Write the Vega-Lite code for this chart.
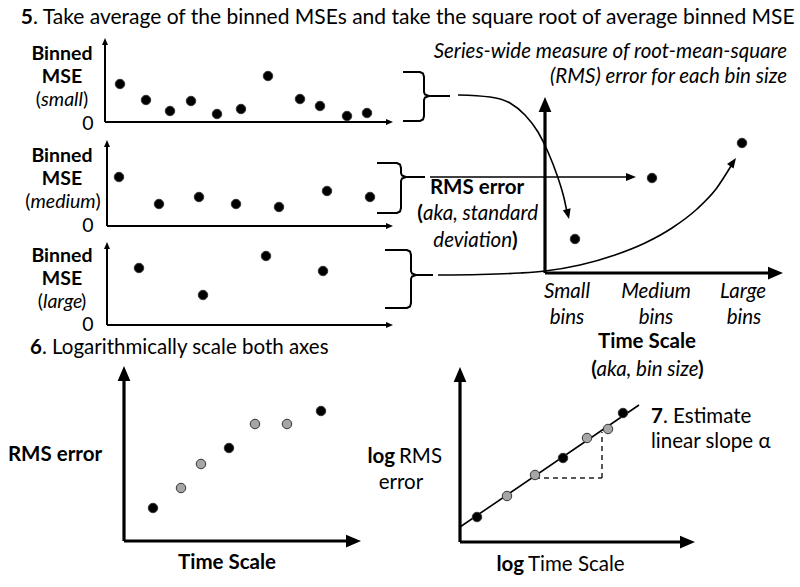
{
  "$schema": "https://vega.github.io/schema/vega-lite/v6.json",
  "width": 800,
  "height": 587,
  "padding": 0,
  "autosize": {"type": "fit", "contains": "padding"},
  "background": "white",
  "config": {"view": {"stroke": null}},
  "datasets": {
    "thinAxes": [
      {"x": 105, "y": 122, "x2": 105, "y2": 43},
      {"x": 105, "y": 122, "x2": 388, "y2": 122},
      {"x": 107, "y": 226, "x2": 107, "y2": 145},
      {"x": 107, "y": 226, "x2": 388, "y2": 226},
      {"x": 107, "y": 325, "x2": 107, "y2": 247},
      {"x": 107, "y": 325, "x2": 388, "y2": 325},
      {"x": 429, "y": 96, "x2": 450, "y2": 96},
      {"x": 406, "y": 177, "x2": 425, "y2": 177},
      {"x": 416, "y": 275, "x2": 433, "y2": 275}
    ],
    "thickAxes": [
      {"x": 545, "y": 273, "x2": 545, "y2": 105},
      {"x": 545, "y": 273, "x2": 775, "y2": 273},
      {"x": 124, "y": 541, "x2": 124, "y2": 375},
      {"x": 124, "y": 541, "x2": 353, "y2": 541},
      {"x": 460, "y": 542, "x2": 460, "y2": 376},
      {"x": 460, "y": 542, "x2": 687, "y2": 542}
    ],
    "fitLines": [
      {"x": 430, "y": 177, "x2": 628, "y2": 177},
      {"x": 460, "y": 527, "x2": 639, "y2": 405}
    ],
    "slopeGuide": [
      {"x": 535, "y": 478, "x2": 602, "y2": 478},
      {"x": 602, "y": 478, "x2": 602, "y2": 432}
    ],
    "smallHeads": [
      {"x": 105, "y": 38, "heading": 0},
      {"x": 107, "y": 140, "heading": 0},
      {"x": 107, "y": 242, "heading": 0},
      {"x": 393, "y": 122, "heading": 90},
      {"x": 393, "y": 226, "heading": 90},
      {"x": 393, "y": 325, "heading": 90}
    ],
    "midHeads": [
      {"x": 636, "y": 177, "heading": 90},
      {"x": 569, "y": 219, "heading": 167},
      {"x": 736, "y": 158, "heading": 35}
    ],
    "bigHeads": [
      {"x": 545, "y": 97, "heading": 0},
      {"x": 783, "y": 273, "heading": 90},
      {"x": 124, "y": 366, "heading": 0},
      {"x": 361, "y": 541, "heading": 90},
      {"x": 460, "y": 367, "heading": 0},
      {"x": 695, "y": 542, "heading": 90}
    ],
    "braces": [
      {"id": "b1", "seq": 1, "x": 403, "y": 72},
      {"id": "b1", "seq": 2, "x": 420, "y": 72},
      {"id": "b1", "seq": 3, "x": 423, "y": 73.5},
      {"id": "b1", "seq": 4, "x": 424, "y": 77},
      {"id": "b1", "seq": 5, "x": 424, "y": 92},
      {"id": "b1", "seq": 6, "x": 425, "y": 94.5},
      {"id": "b1", "seq": 7, "x": 429, "y": 96},
      {"id": "b1", "seq": 8, "x": 425, "y": 97.5},
      {"id": "b1", "seq": 9, "x": 424, "y": 100},
      {"id": "b1", "seq": 10, "x": 424, "y": 116},
      {"id": "b1", "seq": 11, "x": 423, "y": 119.5},
      {"id": "b1", "seq": 12, "x": 420, "y": 121},
      {"id": "b1", "seq": 13, "x": 403, "y": 121},
      {"id": "b2", "seq": 1, "x": 377, "y": 163},
      {"id": "b2", "seq": 2, "x": 397, "y": 163},
      {"id": "b2", "seq": 3, "x": 400, "y": 164.5},
      {"id": "b2", "seq": 4, "x": 401, "y": 168},
      {"id": "b2", "seq": 5, "x": 401, "y": 173},
      {"id": "b2", "seq": 6, "x": 402, "y": 175.5},
      {"id": "b2", "seq": 7, "x": 406, "y": 177},
      {"id": "b2", "seq": 8, "x": 402, "y": 178.5},
      {"id": "b2", "seq": 9, "x": 401, "y": 181},
      {"id": "b2", "seq": 10, "x": 401, "y": 208},
      {"id": "b2", "seq": 11, "x": 400, "y": 211.5},
      {"id": "b2", "seq": 12, "x": 397, "y": 213},
      {"id": "b2", "seq": 13, "x": 377, "y": 213},
      {"id": "b3", "seq": 1, "x": 385, "y": 250},
      {"id": "b3", "seq": 2, "x": 407, "y": 250},
      {"id": "b3", "seq": 3, "x": 410, "y": 251.5},
      {"id": "b3", "seq": 4, "x": 411, "y": 255},
      {"id": "b3", "seq": 5, "x": 411, "y": 271},
      {"id": "b3", "seq": 6, "x": 412, "y": 273.5},
      {"id": "b3", "seq": 7, "x": 416, "y": 275},
      {"id": "b3", "seq": 8, "x": 412, "y": 276.5},
      {"id": "b3", "seq": 9, "x": 411, "y": 279},
      {"id": "b3", "seq": 10, "x": 411, "y": 303},
      {"id": "b3", "seq": 11, "x": 410, "y": 306.5},
      {"id": "b3", "seq": 12, "x": 407, "y": 308},
      {"id": "b3", "seq": 13, "x": 385, "y": 308}
    ],
    "curves": [
      {"id": "c1", "seq": 1, "x": 458, "y": 95},
      {"id": "c1", "seq": 2, "x": 490, "y": 97},
      {"id": "c1", "seq": 3, "x": 510, "y": 103},
      {"id": "c1", "seq": 4, "x": 525, "y": 115},
      {"id": "c1", "seq": 5, "x": 538, "y": 132},
      {"id": "c1", "seq": 6, "x": 548, "y": 152},
      {"id": "c1", "seq": 7, "x": 557, "y": 175},
      {"id": "c1", "seq": 8, "x": 564, "y": 198},
      {"id": "c1", "seq": 9, "x": 567, "y": 212},
      {"id": "c3", "seq": 1, "x": 438, "y": 275},
      {"id": "c3", "seq": 2, "x": 480, "y": 274.5},
      {"id": "c3", "seq": 3, "x": 520, "y": 273},
      {"id": "c3", "seq": 4, "x": 545, "y": 271},
      {"id": "c3", "seq": 5, "x": 580, "y": 265},
      {"id": "c3", "seq": 6, "x": 615, "y": 255},
      {"id": "c3", "seq": 7, "x": 645, "y": 243},
      {"id": "c3", "seq": 8, "x": 672, "y": 228},
      {"id": "c3", "seq": 9, "x": 697, "y": 209},
      {"id": "c3", "seq": 10, "x": 716, "y": 189},
      {"id": "c3", "seq": 11, "x": 731, "y": 166}
    ],
    "dots": [
      {"panel": "small", "x": 120, "y": 84, "series": "measured"},
      {"panel": "small", "x": 146, "y": 100, "series": "measured"},
      {"panel": "small", "x": 170, "y": 111, "series": "measured"},
      {"panel": "small", "x": 191, "y": 101, "series": "measured"},
      {"panel": "small", "x": 217, "y": 114, "series": "measured"},
      {"panel": "small", "x": 241, "y": 109, "series": "measured"},
      {"panel": "small", "x": 268, "y": 76, "series": "measured"},
      {"panel": "small", "x": 300, "y": 99, "series": "measured"},
      {"panel": "small", "x": 320, "y": 106, "series": "measured"},
      {"panel": "small", "x": 347, "y": 116, "series": "measured"},
      {"panel": "small", "x": 367, "y": 113, "series": "measured"},
      {"panel": "medium", "x": 119, "y": 177, "series": "measured"},
      {"panel": "medium", "x": 159, "y": 204, "series": "measured"},
      {"panel": "medium", "x": 199, "y": 197, "series": "measured"},
      {"panel": "medium", "x": 236, "y": 204, "series": "measured"},
      {"panel": "medium", "x": 279, "y": 207, "series": "measured"},
      {"panel": "medium", "x": 327, "y": 191, "series": "measured"},
      {"panel": "medium", "x": 370, "y": 197, "series": "measured"},
      {"panel": "large", "x": 139, "y": 268, "series": "measured"},
      {"panel": "large", "x": 203, "y": 295, "series": "measured"},
      {"panel": "large", "x": 266, "y": 256, "series": "measured"},
      {"panel": "large", "x": 323, "y": 271, "series": "measured"},
      {"panel": "rms", "x": 575, "y": 239, "series": "measured"},
      {"panel": "rms", "x": 652, "y": 178, "series": "measured"},
      {"panel": "rms", "x": 742, "y": 143, "series": "measured"},
      {"panel": "rmsLinear", "x": 153, "y": 508, "series": "measured"},
      {"panel": "rmsLinear", "x": 181, "y": 488, "series": "additional"},
      {"panel": "rmsLinear", "x": 201, "y": 464, "series": "additional"},
      {"panel": "rmsLinear", "x": 229, "y": 448, "series": "measured"},
      {"panel": "rmsLinear", "x": 255, "y": 424, "series": "additional"},
      {"panel": "rmsLinear", "x": 287, "y": 424, "series": "additional"},
      {"panel": "rmsLinear", "x": 321, "y": 411, "series": "measured"},
      {"panel": "rmsLog", "x": 477, "y": 517, "series": "measured"},
      {"panel": "rmsLog", "x": 507, "y": 496, "series": "additional"},
      {"panel": "rmsLog", "x": 535, "y": 475, "series": "additional"},
      {"panel": "rmsLog", "x": 563, "y": 458, "series": "measured"},
      {"panel": "rmsLog", "x": 587, "y": 438, "series": "additional"},
      {"panel": "rmsLog", "x": 608, "y": 429, "series": "additional"},
      {"panel": "rmsLog", "x": 623, "y": 413, "series": "measured"}
    ],
    "titleLeft": [
      {"t": ". Take average of the binned MSEs and take the square root of average binned MSE", "x": 33, "y": 18}
    ],
    "titleRight": [
      {"t": "5", "x": 33, "y": 18}
    ],
    "panelBold": [
      {"t": "Binned", "x": 62, "y": 54},
      {"t": "MSE", "x": 62, "y": 77},
      {"t": "Binned", "x": 62, "y": 156},
      {"t": "MSE", "x": 62, "y": 179},
      {"t": "Binned", "x": 62, "y": 256},
      {"t": "MSE", "x": 62, "y": 279}
    ],
    "panelItalic": [
      {"t": "small", "x": 41, "y": 100},
      {"t": "medium", "x": 30.5, "y": 202},
      {"t": "large", "x": 43, "y": 302}
    ],
    "panelOpen": [
      {"t": "(", "x": 41, "y": 100},
      {"t": "(", "x": 30.5, "y": 202},
      {"t": "(", "x": 43, "y": 302}
    ],
    "panelClose": [
      {"t": ")", "x": 83, "y": 100},
      {"t": ")", "x": 95.5, "y": 202},
      {"t": ")", "x": 81, "y": 302}
    ],
    "panelZero": [
      {"t": "0", "x": 88, "y": 124},
      {"t": "0", "x": 88, "y": 226},
      {"t": "0", "x": 88, "y": 325}
    ],
    "regularLeft": [
      {"t": ". Logarithmically scale both axes", "x": 42, "y": 348},
      {"t": "RMS", "x": 399, "y": 457},
      {"t": "Time Scale", "x": 528, "y": 565},
      {"t": ". Estimate", "x": 663, "y": 417},
      {"t": "linear slope α", "x": 651, "y": 442}
    ],
    "regularCenter": [
      {"t": "error", "x": 401, "y": 483}
    ],
    "boldCenter": [
      {"t": "RMS error", "x": 477, "y": 188},
      {"t": "Time Scale", "x": 647, "y": 342},
      {"t": "RMS error", "x": 55, "y": 455},
      {"t": "Time Scale", "x": 227, "y": 563}
    ],
    "boldRight": [
      {"t": "6", "x": 42, "y": 348},
      {"t": "7", "x": 663, "y": 417},
      {"t": "log", "x": 395, "y": 457},
      {"t": "log", "x": 524, "y": 565},
      {"t": "(", "x": 423, "y": 214},
      {"t": "(", "x": 597, "y": 370}
    ],
    "boldLeft": [
      {"t": ")", "x": 698, "y": 370},
      {"t": ")", "x": 512, "y": 241}
    ],
    "italicLeft": [
      {"t": "aka, standard", "x": 423, "y": 214}
    ],
    "italicRight": [
      {"t": "Series-wide measure of root-mean-square", "x": 787, "y": 52},
      {"t": "(RMS) error for each bin size", "x": 787, "y": 77},
      {"t": "deviation", "x": 512, "y": 241}
    ],
    "italicCenter": [
      {"t": "Small", "x": 567, "y": 292},
      {"t": "bins", "x": 567, "y": 318},
      {"t": "Medium", "x": 656, "y": 292},
      {"t": "bins", "x": 656, "y": 318},
      {"t": "Large", "x": 743, "y": 292},
      {"t": "bins", "x": 744, "y": 318},
      {"t": "aka, bin size", "x": 647.5, "y": 370}
    ]
  },
  "encoding": {
    "x": {"field": "x", "type": "quantitative", "scale": {"domain": [0, 800], "nice": false, "zero": false}, "axis": null},
    "y": {"field": "y", "type": "quantitative", "scale": {"domain": [0, 587], "nice": false, "zero": false, "reverse": true}, "axis": null}
  },
  "layer": [
    {"data": {"name": "thinAxes"}, "mark": {"type": "rule", "color": "black", "strokeWidth": 2},
     "encoding": {"x2": {"field": "x2"}, "y2": {"field": "y2"}}},
    {"data": {"name": "thickAxes"}, "mark": {"type": "rule", "color": "black", "strokeWidth": 3.2},
     "encoding": {"x2": {"field": "x2"}, "y2": {"field": "y2"}}},
    {"data": {"name": "fitLines"}, "mark": {"type": "rule", "color": "black", "strokeWidth": 1.6},
     "encoding": {"x2": {"field": "x2"}, "y2": {"field": "y2"}}},
    {"data": {"name": "slopeGuide"}, "mark": {"type": "rule", "color": "#222", "strokeWidth": 1.5, "strokeDash": [5, 4]},
     "encoding": {"x2": {"field": "x2"}, "y2": {"field": "y2"}}},
    {"data": {"name": "braces"}, "mark": {"type": "line", "color": "black", "strokeWidth": 2, "interpolate": "linear"},
     "encoding": {"detail": {"field": "id"}, "order": {"field": "seq", "type": "quantitative"}}},
    {"data": {"name": "curves"}, "mark": {"type": "line", "color": "black", "strokeWidth": 1.6, "interpolate": "monotone"},
     "encoding": {"detail": {"field": "id"}, "order": {"field": "seq", "type": "quantitative"}}},
    {"data": {"name": "smallHeads"}, "mark": {"type": "point", "shape": "M0,0L-0.85,2L0.85,2Z", "filled": true, "color": "black", "opacity": 1, "size": 49},
     "encoding": {"angle": {"field": "heading", "type": "quantitative", "scale": null}}},
    {"data": {"name": "midHeads"}, "mark": {"type": "point", "shape": "M0,0L-0.8,2L0.8,2Z", "filled": true, "color": "black", "opacity": 1, "size": 100},
     "encoding": {"angle": {"field": "heading", "type": "quantitative", "scale": null}}},
    {"data": {"name": "bigHeads"}, "mark": {"type": "point", "shape": "M0,0L-0.85,2L0.85,2Z", "filled": true, "color": "black", "opacity": 1, "size": 225},
     "encoding": {"angle": {"field": "heading", "type": "quantitative", "scale": null}}},
    {"data": {"name": "dots"}, "mark": {"type": "point", "shape": "circle", "filled": true, "opacity": 1, "size": 90, "stroke": "#333", "strokeWidth": 1},
     "encoding": {"color": {"field": "series", "type": "nominal", "scale": {"domain": ["measured", "additional"], "range": ["black", "#a6a6a6"]}, "legend": null}}},
    {"data": {"name": "titleLeft"}, "mark": {"type": "text", "align": "left", "baseline": "middle", "font": "Lato", "fontSize": 21, "color": "black"},
     "encoding": {"text": {"field": "t"}}},
    {"data": {"name": "titleRight"}, "mark": {"type": "text", "align": "right", "baseline": "middle", "font": "Lato", "fontSize": 21, "fontWeight": "bold", "color": "black"},
     "encoding": {"text": {"field": "t"}}},
    {"data": {"name": "panelBold"}, "mark": {"type": "text", "align": "center", "baseline": "middle", "font": "Lato", "fontSize": 19.5, "fontWeight": "bold", "color": "black"},
     "encoding": {"text": {"field": "t"}}},
    {"data": {"name": "panelItalic"}, "mark": {"type": "text", "align": "left", "baseline": "middle", "font": "Lato", "fontSize": 19.5, "fontStyle": "italic", "color": "black"},
     "encoding": {"text": {"field": "t"}}},
    {"data": {"name": "panelOpen"}, "mark": {"type": "text", "align": "right", "baseline": "middle", "font": "Lato", "fontSize": 19.5, "color": "black"},
     "encoding": {"text": {"field": "t"}}},
    {"data": {"name": "panelClose"}, "mark": {"type": "text", "align": "left", "baseline": "middle", "font": "Lato", "fontSize": 19.5, "color": "black"},
     "encoding": {"text": {"field": "t"}}},
    {"data": {"name": "panelZero"}, "mark": {"type": "text", "align": "center", "baseline": "middle", "font": "Lato", "fontSize": 19.5, "color": "black"},
     "encoding": {"text": {"field": "t"}}},
    {"data": {"name": "regularLeft"}, "mark": {"type": "text", "align": "left", "baseline": "middle", "font": "Lato", "fontSize": 20.5, "color": "black"},
     "encoding": {"text": {"field": "t"}}},
    {"data": {"name": "regularCenter"}, "mark": {"type": "text", "align": "center", "baseline": "middle", "font": "Lato", "fontSize": 20.5, "color": "black"},
     "encoding": {"text": {"field": "t"}}},
    {"data": {"name": "boldCenter"}, "mark": {"type": "text", "align": "center", "baseline": "middle", "font": "Lato", "fontSize": 20.5, "fontWeight": "bold", "color": "black"},
     "encoding": {"text": {"field": "t"}}},
    {"data": {"name": "boldRight"}, "mark": {"type": "text", "align": "right", "baseline": "middle", "font": "Lato", "fontSize": 20.5, "fontWeight": "bold", "color": "black"},
     "encoding": {"text": {"field": "t"}}},
    {"data": {"name": "boldLeft"}, "mark": {"type": "text", "align": "left", "baseline": "middle", "font": "Lato", "fontSize": 20.5, "fontWeight": "bold", "color": "black"},
     "encoding": {"text": {"field": "t"}}},
    {"data": {"name": "italicLeft"}, "mark": {"type": "text", "align": "left", "baseline": "middle", "font": "Lato", "fontSize": 20.5, "fontStyle": "italic", "color": "black"},
     "encoding": {"text": {"field": "t"}}},
    {"data": {"name": "italicRight"}, "mark": {"type": "text", "align": "right", "baseline": "middle", "font": "Lato", "fontSize": 20.5, "fontStyle": "italic", "color": "black"},
     "encoding": {"text": {"field": "t"}}},
    {"data": {"name": "italicCenter"}, "mark": {"type": "text", "align": "center", "baseline": "middle", "font": "Lato", "fontSize": 20.5, "fontStyle": "italic", "color": "black"},
     "encoding": {"text": {"field": "t"}}}
  ]
}
